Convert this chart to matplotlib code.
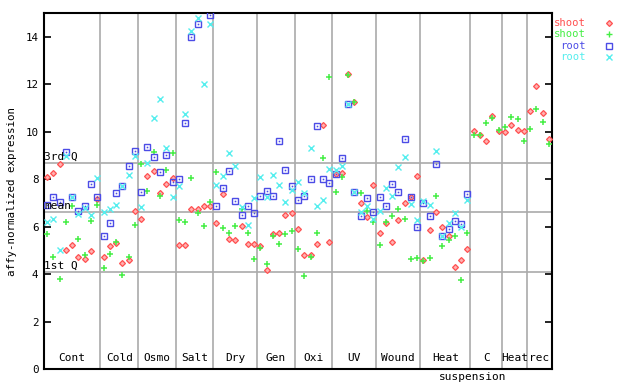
import numpy as np
import matplotlib
matplotlib.use("Agg")
import matplotlib.pyplot as plt

nan = np.nan

groups = ["Cont", "Cold", "Osmo", "Salt", "Dry", "Gen", "Oxi", "UV", "Wound", "Heat", "C", "Heat", "rec"]
group_sizes = [9, 6, 6, 6, 7, 6, 6, 7, 7, 8, 5, 4, 4]

shoot_a = [8.07, 8.25, 8.64, 5.00, 5.21, 4.70, 4.62, 4.96, 7.17,
           4.70, 5.18, 5.30, 4.45, 4.59, 6.64,
           6.30, 8.13, 8.33, 7.40, 7.80, 8.03,
           5.21, 5.21, 6.73, 6.76, 6.87, 6.87,
           6.14, 7.36, 5.46, 5.42, 6.01, 5.25, 5.25,
           5.17, 4.16, 5.67, 5.75, 6.47, 6.56,
           5.88, 4.79, 4.79, 5.25, 10.30, 5.34,
           8.20, 8.24, 12.41, 11.27, 6.98, 6.39, 7.75,
           5.71, 6.14, 5.34, 6.26, 6.98, 7.23, 8.12,
           4.58, 5.84, 6.60, 5.97, 5.60, 4.28, 4.58, 5.04,
           10.01, 9.88, 9.59, 10.64, 10.01,
           9.97, 10.30, 10.06, 10.01,
           10.89, 11.91, 10.77, 9.71]

shoot_b = [5.69, 4.70, 3.78, 6.18, 6.87, 5.46, 4.79, 6.25, 6.91,
           4.24, 4.85, 5.34, 3.94, 4.70, 6.07,
           8.62, 7.48, 9.13, 7.27, 8.37, 9.09,
           6.28, 6.18, 8.03, 6.56, 6.01, 7.02,
           8.29, 5.93, 5.71, 6.01, 6.76, 5.75, 4.62,
           5.09, 4.41, 5.60, 5.25, 5.67, 5.80,
           5.04, 3.90, 4.70, 5.71, 8.87, 12.29,
           7.44, 8.07, 12.37, 11.27, 7.40, 6.64, 6.18,
           5.21, 6.18, 6.43, 6.73, 6.34, 4.62, 4.66,
           4.54, 4.66, 7.27, 5.17, 5.42, 5.60, 3.74, 5.71,
           9.84, 9.88, 10.35, 10.56, 10.06,
           10.18, 10.60, 10.52, 9.59,
           10.10, 10.94, 10.40, 9.46]

root_a = [6.91, 7.23, 7.02, 9.16, 7.26, 6.64, 6.87, 7.78, 7.26,
          5.60, 6.15, 7.40, 7.71, 8.55, 9.19,
          7.44, 9.36, 8.92, 8.29, 9.00, 7.86,
          7.99, 10.35, 13.98, 14.52, nan, 14.90,
          6.85, 7.62, 8.33, 7.06, 6.47, 6.85, 6.56,
          7.31, 7.52, 7.31, 9.59, 8.37, 7.69,
          7.12, 7.27, 7.99, 10.22, 7.99, 7.82,
          8.20, 8.87, 11.18, 7.44, 6.43, 7.19, 6.60,
          7.23, 6.85, 7.78, 7.44, 9.67, 7.23, 5.97,
          6.98, 6.43, 8.62, 5.59, 5.88, 6.22, 6.09, 7.36] + [nan] * 13

root_b = [6.18, 6.30, 5.00, 8.99, 7.26, 6.52, 6.77, 6.49, 8.03,
          6.63, 6.76, 6.91, 7.71, 8.16, 8.99,
          6.83, 8.66, 10.56, 11.36, 9.30, 7.26,
          7.71, 10.73, 14.23, 14.77, 11.99, 14.52,
          7.75, 8.12, 9.09, 8.54, 6.81, 6.05, 7.21,
          8.07, 7.23, 8.16, 7.75, 7.02, 7.56,
          7.90, 7.40, 9.30, 6.85, 7.10, 8.41,
          8.37, 8.54, 11.18, 7.44, 6.60, 6.85, 6.30,
          6.64, 7.62, 7.31, 8.50, 8.92, 6.94, 6.26,
          7.06, 6.89, 9.17, 5.59, 6.14, 6.56, 5.97, 7.14] + [nan] * 13

q3, mean, q1 = 8.68, 6.60, 4.07

RED = "#ff5050"
GREEN = "#44ee44"
BLUE = "#4c4ce6"
CYAN = "#55eeee"
GRID = "#aaaaaa"
FONT = "DejaVu Sans Mono"

n = len(shoot_a)
x = np.arange(n)

fig = plt.figure(figsize=(6.4, 3.84), dpi=100)
ax = fig.add_axes([44 / 640, 15 / 384, 508 / 640, 356 / 384])

bounds = np.cumsum(group_sizes)
for b in bounds[:-1]:
    ax.axvline(b - 0.5, color=GRID, lw=1.2, zorder=1)
for val in (q3, mean, q1):
    ax.axhline(val, color=GRID, lw=1.2, zorder=1)

ax.plot(x, shoot_a, ls="none", marker="D", ms=3.0, mec=RED, mfc="#ffb0b0", mew=0.9, zorder=3)
ax.plot(x, shoot_b, ls="none", marker="+", ms=4.8, mec=GREEN, mew=1.1, zorder=3)
ax.plot(x, root_a, ls="none", marker="s", ms=3.8, mec=BLUE, mfc="none", mew=1.0, zorder=3)
ax.plot(x, root_a, ls="none", marker="s", ms=0.8, mec=BLUE, mfc=BLUE, mew=0.3, zorder=3)
ax.plot(x, root_b, ls="none", marker="x", ms=3.8, mec=CYAN, mew=1.0, zorder=3)

ax.set_xlim(-0.5, n - 0.5)
ax.set_ylim(0, 15)
ax.set_yticks(range(0, 15, 2))
ax.tick_params(axis="y", direction="in", length=5, width=1.2, right=True, labelsize=7.8, pad=4)
ax.tick_params(axis="x", bottom=False, labelbottom=False)
for lab in ax.get_yticklabels():
    lab.set_family(FONT)
for s in ax.spines.values():
    s.set_linewidth(1.5)

ax.set_ylabel("affy-normalized expression", family=FONT, fontsize=7.8, labelpad=6)

# reference line labels
for val, txt in ((q3, "3rd Q"), (mean, "mean"), (q1, "1st Q")):
    ax.text(-0.45, val + 0.05, txt, family=FONT, fontsize=8, va="bottom", ha="left", zorder=4)

# group labels
starts = np.concatenate([[0], bounds[:-1]])
for g, s0, sz in zip(groups, starts, group_sizes):
    ax.text(s0 - 0.5 + sz / 2, 0.25, g, family=FONT, fontsize=8, ha="center", va="bottom")
ax.text(bounds[9] - 0.5 + 0.3, -0.33, "suspension", family=FONT, fontsize=8,
        ha="center", va="center", clip_on=False)

# legend
items = [("shoot", RED, "D"), ("shoot", GREEN, "+"), ("root", BLUE, "s"), ("root", CYAN, "x")]
for k, (lab, col, mk) in enumerate(items):
    yy = 1 - (23 + 11.3 * k) / 384
    fig.text(586 / 640, yy, lab, color=col, family=FONT, fontsize=7.6, ha="right", va="center")
    if mk == "s":
        fig.lines.append(plt.Line2D([609 / 640], [yy], transform=fig.transFigure, marker="s", ms=3.8,
                                    mec=col, mfc="none", mew=1.0, ls="none"))
    elif mk == "D":
        fig.lines.append(plt.Line2D([609 / 640], [yy], transform=fig.transFigure, marker="D", ms=3.0,
                                    mec=col, mfc="#ffb0b0", mew=0.9, ls="none"))
    else:
        fig.lines.append(plt.Line2D([609 / 640], [yy], transform=fig.transFigure, marker=mk, ms=4.5,
                                    mec=col, mew=1.0, ls="none"))

fig.savefig("out.png", dpi=100)
